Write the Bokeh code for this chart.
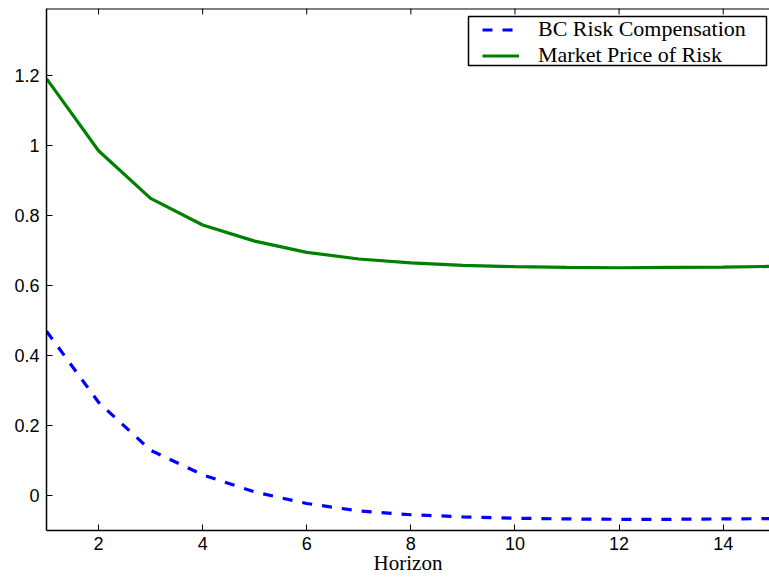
import math
from bokeh.plotting import figure
from bokeh.models import Range1d, LinearAxis, FixedTicker, Legend, LegendItem, BoxAnnotation
from bokeh.embed import file_html
from bokeh.resources import INLINE

horizon = [1, 2, 3, 4, 5, 6, 7, 8, 9, 10, 11, 12, 13, 14, 15]
bc_risk_comp = [0.469, 0.266, 0.129, 0.059, 0.010, -0.023, -0.044, -0.055,
                -0.061, -0.065, -0.067, -0.068, -0.068, -0.067, -0.066]
market_price_risk = [1.190, 0.984, 0.848, 0.772, 0.726, 0.694, 0.675, 0.664,
                     0.657, 0.653, 0.651, 0.650, 0.651, 0.652, 0.654]
x_ticks = [2, 4, 6, 8, 10, 12, 14]
y_ticks = [0, 0.2, 0.4, 0.6, 0.8, 1.0, 1.2]
y_tick_labels = {0: "0", 0.2: "0.2", 0.4: "0.4", 0.6: "0.6", 0.8: "0.8", 1: "1", 1.2: "1.2"}

x_start, x_end = 1, 14.89
y_start, y_end = -0.1, 1.39

p = figure(width=769, height=580, output_backend="svg", toolbar_location=None,
           x_range=Range1d(x_start, x_end), y_range=Range1d(y_start, y_end),
           x_axis_location=None, y_axis_location=None,
           min_border_left=46, min_border_right=0, min_border_top=8, min_border_bottom=50)
p.outline_line_color = None
p.grid.visible = False
p.background_fill_color = "white"
p.border_fill_color = "white"

sans = "Liberation Sans"
serif = "Liberation Serif"

def style_axis(ax):
    ax.axis_line_color = "black"
    ax.axis_line_width = 1.5
    ax.major_tick_line_color = "black"
    ax.major_tick_line_width = 1
    ax.major_tick_in = 6
    ax.major_tick_out = 0
    ax.minor_tick_line_color = None
    ax.major_label_text_font = sans
    ax.major_label_text_font_size = "18px"
    ax.major_label_text_color = "black"

xb = LinearAxis(ticker=FixedTicker(ticks=x_ticks))
style_axis(xb)
xb.major_label_standoff = 6
xb.axis_label = "Horizon"
xb.axis_label_text_font = serif
xb.axis_label_text_font_style = "normal"
xb.axis_label_text_font_size = "21px"
xb.axis_label_text_color = "black"
xb.axis_label_standoff = -2
p.add_layout(xb, "below")

yl = LinearAxis(ticker=FixedTicker(ticks=y_ticks))
style_axis(yl)
yl.major_label_standoff = 7
yl.major_label_overrides = y_tick_labels
p.add_layout(yl, "left")

# top frame line with inward ticks
top_ys = [y_end] * len(x_ticks)
p.scatter(x_ticks, top_ys, marker="dash", size=12, angle=math.pi / 2,
          line_color="black", line_width=1)
p.segment(x0=[x_start], y0=[y_end], x1=[x_end], y1=[y_end], line_color="black", line_width=2)

r_bc = p.line(horizon, bc_risk_comp, line_color="#0000ff", line_width=3.2, line_dash="10 10")
r_mp = p.line(horizon, market_price_risk, line_color="#008000", line_width=3.2)

legend = Legend(items=[LegendItem(label="BC Risk Compensation", renderers=[r_bc]),
                       LegendItem(label="Market Price of Risk", renderers=[r_mp])],
                location=(436, 462), margin=0, padding=0, spacing=0,
                glyph_width=37, glyph_height=21, label_height=21, label_standoff=19,
                label_text_font=serif, label_text_font_size="22px",
                label_text_color="black",
                border_line_alpha=0, background_fill_alpha=0)
p.add_layout(legend, "center")

box = BoxAnnotation(left=468, right=766, top=16, bottom=65,
                    left_units="canvas", right_units="canvas",
                    top_units="canvas", bottom_units="canvas",
                    fill_alpha=0, line_color="black", line_width=1.5, line_alpha=1)
p.add_layout(box)

open("out.html", "w").write(file_html(p, INLINE))
